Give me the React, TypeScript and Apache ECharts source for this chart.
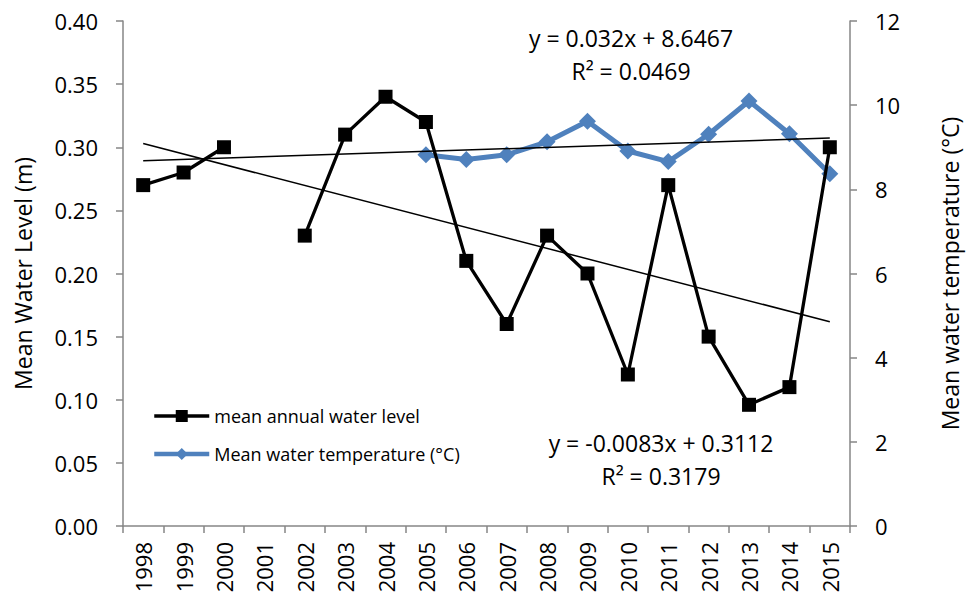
import React, { useEffect, useRef } from "react";
import * as echarts from "echarts";

const years = ["1998","1999","2000","2001","2002","2003","2004","2005","2006","2007","2008","2009","2010","2011","2012","2013","2014","2015"];
const waterLevel: (number | null)[] = [0.27, 0.28, 0.30, null, 0.23, 0.31, 0.34, 0.32, 0.21, 0.16, 0.23, 0.20, 0.12, 0.27, 0.15, 0.096, 0.11, 0.30];
const waterTemp: (number | null)[] = [null, null, null, null, null, null, null, 8.82, 8.71, 8.82, 9.13, 9.62, 8.91, 8.66, 9.31, 10.1, 9.32, 8.37];
const levelTrendEnds = [0.3029, 0.1618];
const tempTrendEnds = [8.68, 9.22];
const leftTicks = [0, 0.05, 0.1, 0.15, 0.2, 0.25, 0.3, 0.35, 0.4];
const rightTicks = [0, 2, 4, 6, 8, 10, 12];

const FONT = "Open Sans";

export default function App() {
  const ref = useRef<HTMLDivElement>(null);
  useEffect(() => {
    if (!ref.current) return;
    const chart = echarts.init(ref.current, undefined, { renderer: "svg" });
    const axisGray = "#868686";
    const first = years[0];
    const last = years[years.length - 1];
    chart.setOption({
      animation: false,
      backgroundColor: "#ffffff",
      textStyle: { fontFamily: FONT },
      grid: { left: 123, right: 115, top: 21, bottom: 73 },
      legend: {
        data: [
          { name: "mean annual water level", lineStyle: { width: 3.5 } },
          { name: "Mean water temperature (°C)", lineStyle: { width: 4.5 } },
        ],
        orient: "vertical",
        left: 147,
        top: 402,
        itemWidth: 55,
        itemHeight: 15,
        itemGap: 20,
        textStyle: { fontFamily: FONT, fontSize: 18, color: "#000" },
      },
      xAxis: {
        type: "category",
        data: years,
        boundaryGap: true,
        axisLine: { lineStyle: { color: axisGray, width: 1.5 } },
        axisTick: { show: true, length: 7, alignWithLabel: false, lineStyle: { color: axisGray, width: 1.5 } },
        axisLabel: { rotate: 90, fontSize: 22, color: "#000", margin: 16, interval: 0, fontFamily: FONT },
        splitLine: { show: false },
      },
      yAxis: [
        {
          type: "value",
          min: leftTicks[0],
          max: leftTicks[leftTicks.length - 1],
          interval: 0.05,
          name: "Mean Water Level (m)",
          nameLocation: "middle",
          nameGap: 89,
          nameTextStyle: { fontSize: 23, color: "#000", fontFamily: FONT },
          axisLine: { show: true, lineStyle: { color: axisGray, width: 1.5 } },
          axisTick: { show: true, length: 7, lineStyle: { color: axisGray, width: 1.5 } },
          axisLabel: { fontSize: 22, color: "#000", margin: 25, formatter: (v: number) => v.toFixed(2), fontFamily: FONT },
          splitLine: { show: false },
        },
        {
          type: "value",
          min: rightTicks[0],
          max: rightTicks[rightTicks.length - 1],
          interval: 2,
          name: "Mean water temperature (°C)",
          nameLocation: "middle",
          nameGap: 88,
          nameRotate: 90,
          nameTextStyle: { fontSize: 23, color: "#000", fontFamily: FONT },
          axisLine: { show: true, lineStyle: { color: axisGray, width: 1.5 } },
          axisTick: { show: true, length: 7, lineStyle: { color: axisGray, width: 1.5 } },
          axisLabel: { fontSize: 22, color: "#000", margin: 25, fontFamily: FONT },
          splitLine: { show: false },
        },
      ],
      series: [
        {
          name: "Level trend",
          type: "line",
          yAxisIndex: 0,
          data: [[first, levelTrendEnds[0]], [last, levelTrendEnds[1]]],
          symbol: "none",
          lineStyle: { color: "#000", width: 1.5 },
          z: 1,
          silent: true,
        },
        {
          name: "Temp trend",
          type: "line",
          yAxisIndex: 1,
          data: [[first, tempTrendEnds[0]], [last, tempTrendEnds[1]]],
          symbol: "none",
          lineStyle: { color: "#000", width: 1.5 },
          z: 4,
          silent: true,
        },
        {
          name: "Mean water temperature (°C)",
          type: "line",
          yAxisIndex: 1,
          data: waterTemp,
          symbol: "diamond",
          symbolSize: 17,
          itemStyle: { color: "#4F81BD" },
          lineStyle: { color: "#4F81BD", width: 5 },
          z: 3,
        },
        {
          name: "mean annual water level",
          type: "line",
          yAxisIndex: 0,
          data: waterLevel,
          connectNulls: false,
          symbol: "rect",
          symbolSize: 14,
          itemStyle: { color: "#000" },
          lineStyle: { color: "#000", width: 3.3 },
          z: 5,
        },
      ],
      graphic: [
        { type: "text", x: 631, y: 38, style: { text: "y = 0.032x + 8.6467", fontSize: 23, fill: "#000", fontFamily: FONT, align: "center", verticalAlign: "middle" } },
        { type: "text", x: 631, y: 71, style: { text: "R² = 0.0469", fontSize: 23, fill: "#000", fontFamily: FONT, align: "center", verticalAlign: "middle" } },
        { type: "text", x: 661, y: 443, style: { text: "y = -0.0083x + 0.3112", fontSize: 23, fill: "#000", fontFamily: FONT, align: "center", verticalAlign: "middle" } },
        { type: "text", x: 661, y: 476, style: { text: "R² = 0.3179", fontSize: 23, fill: "#000", fontFamily: FONT, align: "center", verticalAlign: "middle" } },
      ],
    });
    return () => chart.dispose();
  }, []);
  return <div ref={ref} style={{ position: "fixed", left: 0, top: 0, width: 969, height: 599 }} />;
}
